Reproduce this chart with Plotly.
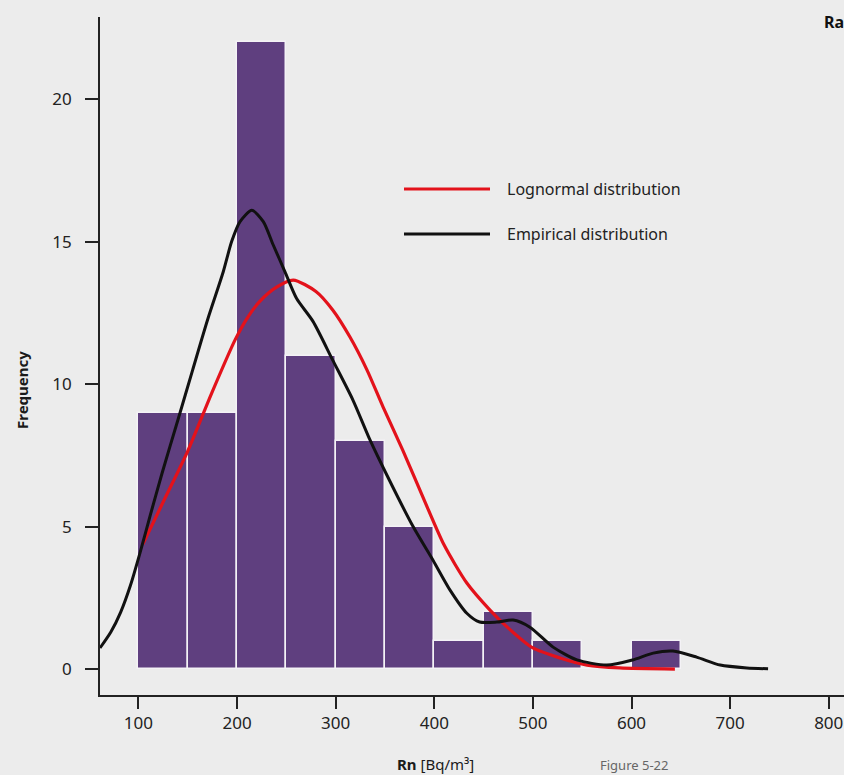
import plotly.graph_objects as go

# ---- data ----
bin_left = [100, 150, 200, 250, 300, 350, 400, 450, 500, 550, 600]
counts = [9, 9, 22, 11, 8, 5, 1, 2, 1, 0, 1]
bin_width = 50

emp_x = [61, 72, 82, 92, 101.5, 112, 124, 140, 155, 170.5, 186, 194.5, 203, 215, 226.6,
         236.7, 248.6, 260.4, 277, 297, 317.5, 334.8, 352, 378.5, 398.7, 416, 433, 446,
         463.5, 480, 497, 520.5, 544.7, 575, 601, 622, 642, 666, 690, 717, 738.5]
emp_y = [0.74, 1.3, 2.0, 2.95, 4.07, 5.4, 6.88, 8.74, 10.5, 12.3, 13.94, 15.0, 15.7, 16.1, 15.7,
         14.88, 13.94, 13.0, 12.2, 10.84, 9.44, 8.04, 6.8, 5.0, 3.82, 2.77, 1.96, 1.65,
         1.65, 1.72, 1.47, 0.77, 0.32, 0.14, 0.32, 0.56, 0.63, 0.42, 0.14, 0.04, 0.01]

logn_x = [104.5, 127, 150, 174.5, 198, 210, 223, 240, 257, 280, 297, 314.5, 331.7,
          348, 368, 392.6, 410, 433, 456.5, 474, 500, 527.5, 555, 588, 644]
logn_y = [4.39, 6.0, 7.65, 9.7, 11.55, 12.3, 12.9, 13.4, 13.65, 13.25, 12.6, 11.65, 10.5,
          9.2, 7.68, 5.7, 4.35, 3.02, 2.07, 1.47, 0.74, 0.39, 0.14, 0.04, 0.0]

x_ticks = [100, 200, 300, 400, 500, 600, 700, 800]
y_ticks = [0, 5, 10, 15, 20]

legend_labels = ["Lognormal distribution", "Empirical distribution"]

BG = "#ececec"
PURPLE = "#5f3f7f"
RED = "#e3121b"
BLACK = "#111111"
FONT = "Noto Sans"

fig = go.Figure()
fig.add_trace(go.Bar(
    x=[b + bin_width / 2 for b in bin_left], y=counts, width=bin_width,
    marker=dict(color=PURPLE, line=dict(color="#f4f2f6", width=1.5)),
    showlegend=False, hoverinfo="skip"))
fig.add_trace(go.Scatter(x=logn_x, y=logn_y, mode="lines",
                         line=dict(color=RED, width=3.2, shape="spline", smoothing=0.7),
                         showlegend=False))
fig.add_trace(go.Scatter(x=emp_x, y=emp_y, mode="lines",
                         line=dict(color=BLACK, width=3, shape="spline", smoothing=0.7),
                         showlegend=False))

W, H = 844, 775
L, R, T, B = 100, 0, 17, 80
pw, ph = W - L - R, H - T - B


def px_x(p):
    return (p - L) / pw


def px_y(p):
    return (H - B - p) / ph


shapes = []
annotations = []
for col, ypx, lab in [(RED, 189, legend_labels[0]), (BLACK, 234, legend_labels[1])]:
    shapes.append(dict(type="line", xref="paper", yref="paper",
                       x0=px_x(404), x1=px_x(490), y0=px_y(ypx), y1=px_y(ypx),
                       line=dict(color=col, width=3.2)))
    annotations.append(dict(xref="paper", yref="paper", x=px_x(505), y=px_y(ypx),
                            xanchor="left", yanchor="middle", text=lab, showarrow=False,
                            font=dict(family=FONT, size=16, color="#222")))

annotations += [
    dict(xref="paper", yref="paper", x=px_x(22), y=px_y(390), text="<b>Frequency</b>",
         textangle=-90, showarrow=False, xanchor="center", yanchor="middle",
         font=dict(family=FONT, size=15, color="#1a1a1a")),
    dict(xref="paper", yref="paper", x=px_x(435), y=px_y(764),
         text="<b>Rn</b> [Bq/m³]", showarrow=False, xanchor="center", yanchor="middle",
         font=dict(family=FONT, size=15, color="#1a1a1a")),
    dict(xref="paper", yref="paper", x=px_x(822), y=px_y(22), text="<b>Ra</b>",
         showarrow=False, xanchor="left", yanchor="middle",
         font=dict(family=FONT, size=16, color="#111")),
    dict(xref="paper", yref="paper", x=px_x(598), y=px_y(754), text="Figure 5-22",
         showarrow=False, xanchor="left", yanchor="top",
         font=dict(family=FONT, size=13, color="#666")),
]

fig.update_layout(
    width=W, height=H,
    margin=dict(l=L, r=R, t=T, b=B, pad=0),
    paper_bgcolor=BG, plot_bgcolor=BG,
    bargap=0,
    shapes=shapes, annotations=annotations,
    showlegend=False,
    font=dict(family=FONT, color="#222"),
    xaxis=dict(range=[61, 815.5], tickvals=x_ticks, ticks="outside", ticklen=12,
               tickwidth=1.8, tickcolor="#222", showline=True, linecolor="#222",
               linewidth=1.8, showgrid=False, zeroline=False,
               tickfont=dict(family=FONT, size=17, color="#222")),
    yaxis=dict(range=[-0.91, 22.88], tickvals=y_ticks, ticks="outside", ticklen=13,
               tickwidth=1.8, tickcolor="#222", showline=True, linecolor="#222",
               linewidth=1.8, showgrid=False, zeroline=False, ticklabelstandoff=10,
               tickfont=dict(family=FONT, size=17, color="#222")),
)

fig.write_html(
    "out.html",
    config={"displayModeBar": False},
    post_script="document.body.style.margin='0';document.body.style.background='#ececec';"
                "document.body.style.overflow='hidden';",
)
